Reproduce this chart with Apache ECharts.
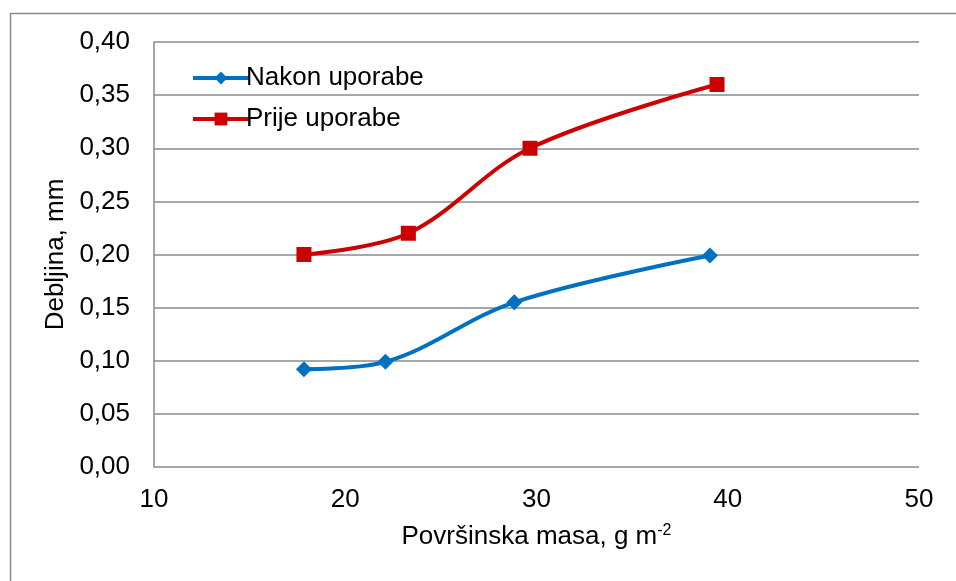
<!DOCTYPE html>
<html style="height: 100%">
<head>
    <meta charset="UTF-8">
    <title>Debljina</title>
    <script type="text/javascript" src="https://cdn.jsdelivr.net/npm/echarts/dist/echarts.min.js"></script>
</head>
<body style="height: 100%; margin: 0; background: #fff">
    <div id="container" style="width: 956px; height: 581px"></div>
<script>
    // Površinska masa (g m-2) i debljina (mm)
    var nakonX = [17.84, 22.1, 28.84, 39.07];
    var nakonY = [0.092, 0.099, 0.155, 0.199];
    var prijeX = [17.84, 23.3, 29.66, 39.44];
    var prijeY = [0.200, 0.220, 0.300, 0.360];
    var seriesNames = ['Nakon uporabe', 'Prije uporabe'];

    function pairs(xs, ys) {
        return xs.map(function (x, i) { return [x, ys[i]]; });
    }

    var font = 'Liberation Sans, Arial, sans-serif';
    var dom = document.getElementById('container');
    var myChart = echarts.init(dom);
    var option = {
        animation: false,
        textStyle: {fontFamily: font},
        graphic: [{
            type: 'rect',
            shape: {x: 10.5, y: 13.5, width: 1200, height: 1200},
            style: {fill: 'none', stroke: '#8a8a8a', lineWidth: 1.5}
        }],
        grid: {left: 154, right: 37, top: 42, bottom: 114},
        legend: {
            orient: 'vertical',
            left: 186,
            top: 60,
            itemWidth: 56,
            itemHeight: 16,
            itemGap: 15,
            lineStyle: {width: 4},
            textStyle: {fontSize: 26, color: '#000', fontFamily: font, padding: [0, 0, 0, -8]},
            data: seriesNames
        },
        xAxis: {
            type: 'value',
            min: 10,
            max: 50,
            interval: 10,
            name: '{a|Površinska masa, g m}{s|-2}',
            nameLocation: 'middle',
            nameGap: 56,
            nameTextStyle: {
                rich: {
                    a: {fontSize: 26, color: '#000', fontFamily: font},
                    s: {fontSize: 16, color: '#000', fontFamily: font, verticalAlign: 'top', padding: [0, 0, 12, 0]}
                }
            },
            axisLine: {show: false},
            axisTick: {show: false},
            splitLine: {show: false},
            axisLabel: {fontSize: 26, color: '#000', margin: 20}
        },
        yAxis: {
            type: 'value',
            min: 0,
            max: 0.4,
            interval: 0.05,
            name: 'Debljina, mm',
            nameLocation: 'middle',
            nameGap: 84,
            nameTextStyle: {fontSize: 26, color: '#000'},
            axisLine: {show: true, lineStyle: {color: '#8a8a8a', width: 1.5}},
            axisTick: {show: false},
            splitLine: {lineStyle: {color: '#8a8a8a', width: 1.5}},
            axisLabel: {
                fontSize: 26, color: '#000', margin: 24,
                formatter: function (v) { return v.toFixed(2).replace('.', ','); }
            }
        },
        series: [{
            name: seriesNames[0],
            type: 'line',
            smooth: 0.35,
            symbol: 'diamond',
            symbolSize: 16,
            lineStyle: {color: '#0070c0', width: 4},
            itemStyle: {color: '#0070c0'},
            data: pairs(nakonX, nakonY)
        }, {
            name: seriesNames[1],
            type: 'line',
            smooth: 0.35,
            symbol: 'rect',
            symbolSize: 15,
            lineStyle: {color: '#cc0000', width: 4},
            itemStyle: {color: '#cc0000'},
            data: pairs(prijeX, prijeY)
        }]
    };
    myChart.setOption(option);
</script>
</body>
</html>
